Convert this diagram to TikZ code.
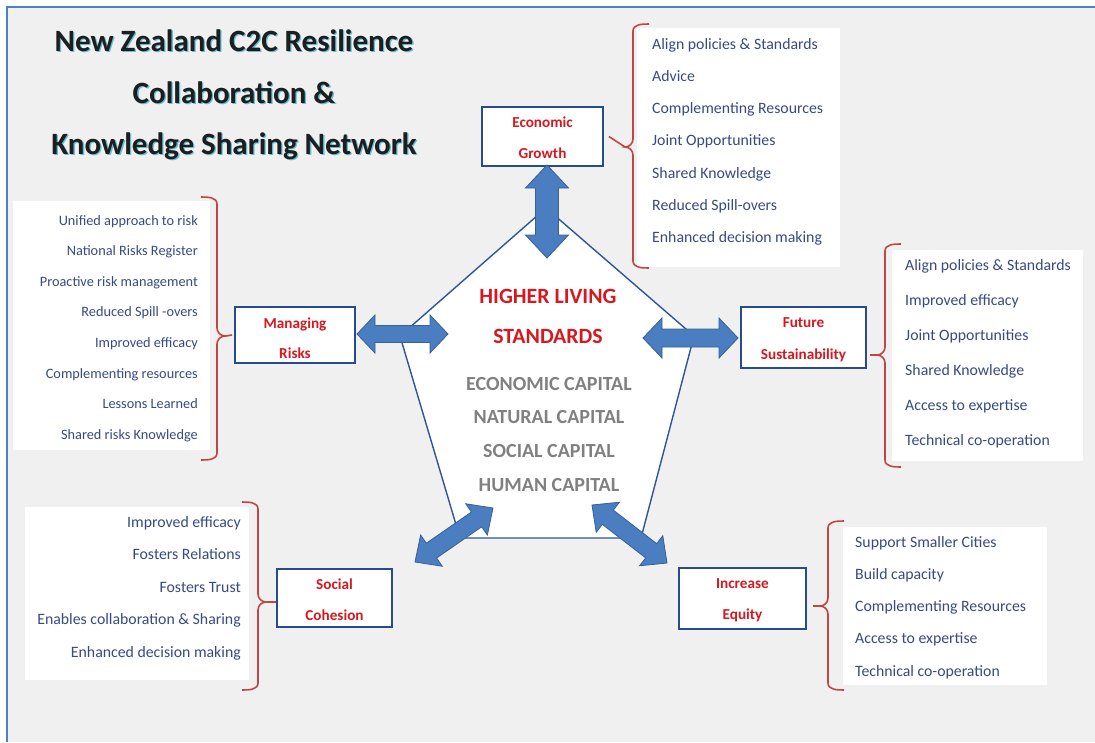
\documentclass[tikz,border=0pt]{standalone}
\usepackage{fontspec}
\setmainfont{Carlito}
\usetikzlibrary{calc}
\definecolor{bgray}{RGB}{240,240,240}
\definecolor{frameblue}{RGB}{79,129,189}
\definecolor{boxblue}{RGB}{40,75,140}
\definecolor{labred}{RGB}{214,24,32}
\definecolor{brred}{RGB}{192,70,70}
\definecolor{itemblue}{RGB}{55,75,130}
\definecolor{capgray}{RGB}{128,128,128}
\definecolor{arrfill}{RGB}{74,126,193}
\definecolor{arrdraw}{RGB}{54,96,150}
\definecolor{pentline}{RGB}{47,85,151}
\definecolor{shadowc}{RGB}{100,190,210}
\definecolor{titlec}{RGB}{30,30,30}
\tikzset{
  lbox/.style={draw=boxblue, line width=1.8pt, fill=white, inner sep=0pt},
  boxlab/.style={text=labred, font=\fontsize{15.2}{17}\selectfont\bfseries, inner sep=0pt, anchor=base},
  item/.style={text=itemblue, font=\fontsize{15.8}{18}\selectfont, inner sep=0pt},
  itemsm/.style={text=itemblue, font=\fontsize{14.3}{16}\selectfont, inner sep=0pt},
  bracepath/.style={draw=brred, line width=1.6pt},
  titletext/.style={font=\fontsize{31}{33}\selectfont\bfseries, inner sep=0pt, anchor=base},
  arrstyle/.style={fill=arrfill, draw=arrdraw, line width=0.8pt, line join=miter},
  hls/.style={text=labred, font=\fontsize{21.8}{24}\selectfont\bfseries, inner sep=0pt, anchor=base},
  capt/.style={text=capgray, font=\fontsize{20}{22}\selectfont\bfseries, inner sep=0pt, anchor=base}
}
% block double arrow: name, end a, end b, half head width, half shaft width, head length
\newcommand\blockarrow[6]{%
  \coordinate (#1p) at ($(#2)!#6!(#3)$);
  \coordinate (#1q) at ($(#3)!#6!(#2)$);
  \draw[arrstyle] (#2) -- ($(#1p)!#4!90:(#3)$) -- ($(#1p)!#5!90:(#3)$)
    -- ($(#1q)!#5!90:(#3)$) -- ($(#1q)!#4!90:(#3)$) -- (#3)
    -- ($(#1q)!#4!-90:(#3)$) -- ($(#1q)!#5!-90:(#3)$)
    -- ($(#1p)!#5!-90:(#3)$) -- ($(#1p)!#4!-90:(#3)$) -- cycle;}
% brace opening to the right (tip on the left): x, top, bottom, middle
\newcommand\braceL[4]{%
  \draw[bracepath] ({#1+16},#2) to[out=180,in=90] (#1,{#2+7}) -- (#1,{#4-8})
    to[out=270,in=0] ({#1-8},#4) to[out=0,in=90] (#1,{#4+8}) -- (#1,{#3-7})
    to[out=270,in=180] ({#1+16},#3);}
% brace opening to the left (tip on the right)
\newcommand\braceR[4]{%
  \draw[bracepath] ({#1-16},#2) to[out=0,in=90] (#1,{#2+7}) -- (#1,{#4-8})
    to[out=270,in=180] ({#1+8},#4) to[out=180,in=90] (#1,{#4+8}) -- (#1,{#3-7})
    to[out=270,in=0] ({#1-16},#3);}
\begin{document}
\begin{tikzpicture}[x=1pt,y=-1pt]
\useasboundingbox (0,0) rectangle (1095,742);
\fill[white] (0,0) rectangle (1095,742);
\fill[bgray] (7,7) rectangle (1095,742);
\draw[frameblue, line width=1.2pt] (7,742) -- (7,7) -- (1095,7);

% title
\foreach \t/\y [count=\i] in {New Zealand C2C Resilience/51, Collaboration \&/103, Knowledge Sharing Network/154}{
  \node[titletext, text=shadowc] (tsh\i) at (235.3,\y+1.3) {\t};
  \node[titletext, text=titlec] (tt\i) at (234,\y) {\t};
}

% white list panels
\fill[white] (637,28) rectangle (840,267);
\fill[white] (13,201) rectangle (210,450);
\fill[white] (892,250) rectangle (1083,461);
\fill[white] (25,507) rectangle (249,680);
\fill[white] (843,527) rectangle (1047,685);

% central pentagon
\coordinate (pT) at (546,208);
\coordinate (pR) at (694,336);
\coordinate (pBR) at (641,538);
\coordinate (pBL) at (460,538);
\coordinate (pL) at (400,336);
\draw[pentline, line width=1.4pt, fill=white] (pT) -- (pR) -- (pBR) -- (pBL) -- (pL) -- cycle;

\node[hls] (h1) at (548,303) {HIGHER LIVING};
\node[hls] (h2) at (548,343) {STANDARDS};
\node[capt] (c1) at (549,390) {ECONOMIC CAPITAL};
\node[capt] (c2) at (549,423) {NATURAL CAPITAL};
\node[capt] (c3) at (549,457) {SOCIAL CAPITAL};
\node[capt] (c4) at (549,491) {HUMAN CAPITAL};

% outcome boxes
\node[lbox, minimum width=121pt, minimum height=59pt] (eg) at (542.5,136.5) {};
\node[lbox, minimum width=120pt, minimum height=56pt] (mr) at (295,335) {};
\node[lbox, minimum width=125pt, minimum height=61pt] (fs) at (803.5,337.5) {};
\node[lbox, minimum width=115pt, minimum height=58pt] (sc) at (334.5,598) {};
\node[lbox, minimum width=127pt, minimum height=61pt] (ie) at (742.5,598.5) {};

\node[boxlab] (eg1) at (542.5,127) {Economic};
\node[boxlab] (eg2) at (542.5,158) {Growth};
\node[boxlab] (mr1) at (295,328) {Managing};
\node[boxlab] (mr2) at (295,358) {Risks};
\node[boxlab] (fs1) at (803.5,327) {Future};
\node[boxlab] (fs2) at (803.5,359) {Sustainability};
\node[boxlab] (sc1) at (334.5,589) {Social};
\node[boxlab] (sc2) at (334.5,620) {Cohesion};
\node[boxlab] (ie1) at (742.5,588) {Increase};
\node[boxlab] (ie2) at (742.5,619) {Equity};

% block arrows
\coordinate (aTa) at (547,165);  \coordinate (aTb) at (547,258);
\coordinate (aLa) at (357,334);  \coordinate (aLb) at (448,334);
\coordinate (aRa) at (643,338);  \coordinate (aRb) at (738,338);
\coordinate (aBLa) at (415,562); \coordinate (aBLb) at (493,508);
\coordinate (aBRa) at (592,505); \coordinate (aBRb) at (667,563);
\blockarrow{arrT}{aTa}{aTb}{21.5pt}{11.5pt}{23pt}
\blockarrow{arrL}{aLa}{aLb}{19pt}{8.5pt}{18pt}
\blockarrow{arrR}{aRa}{aRb}{20pt}{9pt}{19pt}
\blockarrow{arrBL}{aBLa}{aBLb}{19pt}{9pt}{20pt}
\blockarrow{arrBR}{aBRa}{aBRb}{19pt}{9pt}{20pt}

% braces and stubs
\braceL{633}{24}{268}{147}
\draw[bracepath] (625,147) -- ([xshift=5pt]eg.east);
\braceR{217}{197}{460}{336}
\draw[bracepath] (225,336) -- ([xshift=-2pt]mr.west);
\braceL{885}{244}{467}{355}
\draw[bracepath] (877,355) -- ([xshift=3pt]fs.east |- 0,355);
\braceR{258}{502}{690}{602}
\draw[bracepath] (266,602) -- (sc.west |- 0,602);
\braceL{828}{521}{690}{606}
\draw[bracepath] (820,606) -- ([xshift=6pt]ie.east |- 0,606);

% lists
\foreach \t [count=\i from 0] in {Align policies \& Standards, Advice, Complementing Resources, Joint Opportunities, Shared Knowledge, Reduced Spill-overs, Enhanced decision making}
  \node[item, anchor=base west] (egl\i) at (652,{49+32.3*\i}) {\t};
\foreach \t [count=\i from 0] in {Unified approach to risk, National Risks Register, Proactive risk management, Reduced Spill -overs, Improved efficacy, Complementing resources, Lessons Learned, Shared risks Knowledge}
  \node[itemsm, anchor=base east] (mrl\i) at (198,{225+30.6*\i}) {\t};
\foreach \t [count=\i from 0] in {Align policies \& Standards, Improved efficacy, Joint Opportunities, Shared Knowledge, Access to expertise, Technical co-operation}
  \node[item, anchor=base west] (fsl\i) at (905,{270+35*\i}) {\t};
\foreach \t [count=\i from 0] in {Improved efficacy, Fosters Relations, Fosters Trust, Enables collaboration \& Sharing, Enhanced decision making}
  \node[item, anchor=base east] (scl\i) at (241,{527+32.5*\i}) {\t};
\foreach \t [count=\i from 0] in {Support Smaller Cities, Build capacity, Complementing Resources, Access to expertise, Technical co-operation}
  \node[item, anchor=base west] (iel\i) at (855,{547+32.25*\i}) {\t};
\end{tikzpicture}
\end{document}
